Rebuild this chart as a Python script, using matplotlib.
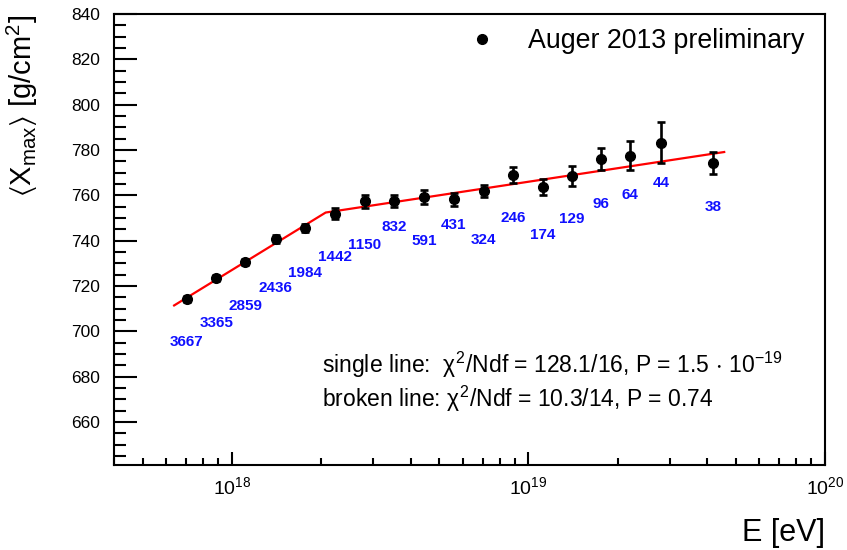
import numpy as np
import matplotlib.pyplot as plt
from matplotlib.lines import Line2D
from matplotlib.ticker import MultipleLocator, LogLocator, NullFormatter

plt.rcParams['font.family'] = ['Liberation Sans', 'DejaVu Sans']
plt.rcParams['mathtext.fontset'] = 'custom'
plt.rcParams['mathtext.rm'] = 'Liberation Sans'
plt.rcParams['mathtext.it'] = 'Liberation Sans'
plt.rcParams['mathtext.bf'] = 'Liberation Sans:bold'
plt.rcParams['mathtext.sf'] = 'Liberation Sans'
plt.rcParams['mathtext.fallback'] = 'stixsans'

# %% data
energy = [7.05e17, 8.85e17, 1.109e18, 1.403e18, 1.762e18, 2.223e18, 2.805e18,
          3.532e18, 4.446e18, 5.598e18, 7.063e18, 8.872e18, 1.117e19, 1.403e19,
          1.758e19, 2.193e19, 2.805e19, 4.188e19]
xmax = [714.3, 723.4, 730.5, 740.6, 745.5, 751.9, 757.3, 757.5, 759.2, 758.2,
        761.8, 769.1, 763.7, 768.6, 775.9, 777.4, 783.3, 774.3]
xmax_err = [1.2, 1.3, 1.4, 1.7, 1.8, 2.4, 2.9, 2.6, 3.1, 2.8,
            2.7, 3.5, 3.4, 4.3, 4.9, 6.4, 9.2, 4.9]
n_events = ['3667', '3365', '2859', '2436', '1984', '1442', '1150', '832', '591',
            '431', '324', '246', '174', '129', '96', '64', '44', '38']
label_y = [695.2, 703.7, 711.1, 719.0, 725.8, 732.7, 737.9, 746.0, 739.7,
           746.7, 740.1, 750.0, 742.3, 749.7, 756.0, 760.0, 765.6, 754.8]

# broken line fit (start, break, end)
fit_energy = [6.38e17, 2.070e18, 4.571e19]
fit_xmax = [711.4, 752.4, 779.1]

# %% figure
fig = plt.figure(figsize=(8.47, 5.5), dpi=100)
ax = fig.add_axes([114/847, 1-465/550, 711/847, 451/550])

ax.plot(fit_energy, fit_xmax, color='#ff0000', lw=1.6, zorder=2)
ax.errorbar(energy, xmax, yerr=xmax_err, fmt='o', color='black', ms=7,
            elinewidth=1.9, capsize=2.8, capthick=1.9, zorder=3)

for e, ly, n in zip(energy, label_y, n_events):
    ax.text(e, ly, n, color='#1010ff', fontsize=11, fontweight='bold',
            ha='center', va='center')

ax.set_xscale('log')
ax.set_xlim(4e17, 1e20)
ax.set_ylim(641, 840)

ax.yaxis.set_major_locator(MultipleLocator(20))
ax.yaxis.set_minor_locator(MultipleLocator(5))
ax.xaxis.set_major_locator(LogLocator(base=10))
ax.xaxis.set_minor_locator(LogLocator(base=10, subs=np.arange(2, 10)))
ax.xaxis.set_minor_formatter(NullFormatter())

for s in ax.spines.values():
    s.set_linewidth(1.5)
ax.tick_params(axis='y', which='major', direction='in', length=16.5, width=1.5,
               labelsize=12.5, pad=10, right=False)
ax.tick_params(axis='y', which='minor', direction='in', length=8.6, width=1.5,
               right=False)
ax.tick_params(axis='x', which='major', direction='in', length=9.4, width=1.5,
               labelsize=14, pad=8, top=False)
ax.tick_params(axis='x', which='minor', direction='in', length=5, width=1.5,
               top=False)

fig.text(22/847, 1-15/550, r'$\langle\mathrm{X}_{\mathrm{max}}\rangle$ [g/cm$^{2}$]',
         rotation=90, ha='center', va='top', fontsize=21)
fig.text(825/847, 1-533/550, 'E [eV]', ha='right', va='center', fontsize=22)

handle = Line2D([], [], marker='o', color='black', ls='none', ms=7)
ax.legend([handle], ['Auger 2013 preliminary'], loc='upper left',
          bbox_to_anchor=(455/847, 1-28/550), bbox_transform=fig.transFigure,
          frameon=False, fontsize=19.3, handlelength=2.0, handletextpad=0.73,
          borderpad=0, borderaxespad=0)

fig.text(322/847, 1-373/550,
         r'single line:  $\chi^{2}$/Ndf = 128.1/16, P = 1.5$\,\cdot\,$10$^{-19}$',
         ha='left', va='baseline', fontsize=16.5)
fig.text(322/847, 1-407/550,
         r'broken line: $\chi^{2}$/Ndf = 10.3/14, P = 0.74',
         ha='left', va='baseline', fontsize=16.5)

fig.savefig('out.png', dpi=100)
